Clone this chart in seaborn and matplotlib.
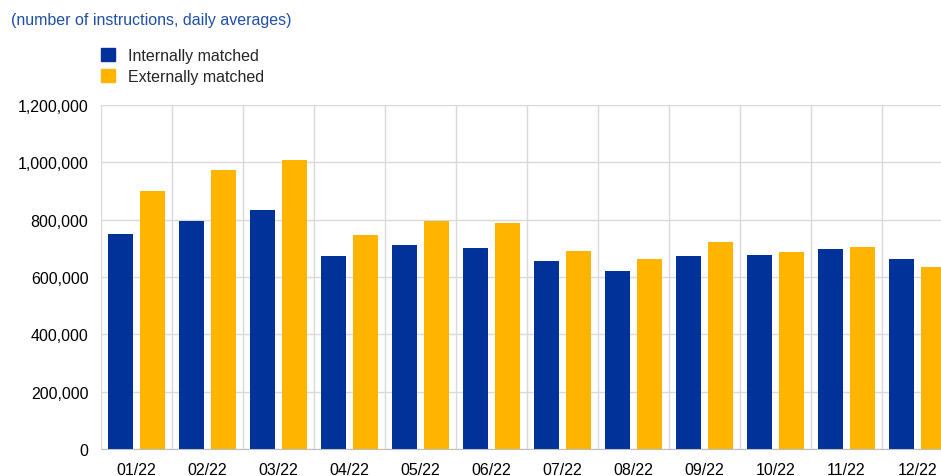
import numpy as np
import pandas as pd
import matplotlib
matplotlib.use("Agg")
import matplotlib.pyplot as plt
import seaborn as sns
from matplotlib.ticker import FuncFormatter, FixedLocator

# ---------------------------
# Data
# ---------------------------
months = ["01/22", "02/22", "03/22", "04/22", "05/22", "06/22",
          "07/22", "08/22", "09/22", "10/22", "11/22", "12/22"]
internally_matched = [749000, 796000, 834000, 672000, 713000, 700000,
                      656000, 621000, 674000, 678000, 699000, 662000]
externally_matched = [901000, 973000, 1007000, 748000, 794000, 789000,
                      691000, 663000, 722000, 687000, 705000, 635000]
series_names = ["Internally matched", "Externally matched"]
colors = ["#003299", "#FFB400"]

df = pd.DataFrame({
    "month": months * 2,
    "value": internally_matched + externally_matched,
    "series": [series_names[0]] * len(months) + [series_names[1]] * len(months),
})

# ---------------------------
# Plot
# ---------------------------
sns.set_style("white")
plt.rcParams["font.family"] = ["Liberation Sans", "DejaVu Sans"]

fig = plt.figure(figsize=(9.41, 4.77), dpi=100)
ax = fig.add_axes([0.1073, 0.0566, 0.9054, 0.7212])

sns.barplot(
    data=df, x="month", y="value", hue="series",
    palette=colors, saturation=1, width=0.9, gap=0.22,
    edgecolor="none", linewidth=0, ax=ax, legend=False,
)

ax.set_ylim(0, 1200000)
ax.set_xlim(-0.5, len(months) - 0.5)
ax.set_yticks(np.arange(0, 1200001, 200000))
ax.yaxis.set_major_formatter(FuncFormatter(lambda v, p: f"{int(v):,}"))

# vertical grid at category boundaries
ax.xaxis.set_minor_locator(FixedLocator(np.arange(-0.5, len(months), 1.0)))
ax.grid(axis="y", which="major", color="#d9d9d9", linewidth=1)
ax.grid(axis="x", which="minor", color="#d9d9d9", linewidth=1)
ax.set_axisbelow(True)

for side in ["top", "right", "left"]:
    ax.spines[side].set_visible(False)
ax.spines["bottom"].set_color("#bfbfbf")

ax.tick_params(axis="both", which="both", length=0, labelsize=11.5, colors="#000000")
ax.tick_params(axis="x", pad=9)
ax.tick_params(axis="y", pad=9)
ax.set_xlabel("")
ax.set_ylabel("")

fig.text(0.012, 0.957, "(number of instructions, daily averages)",
         color="#1f4fa8", fontsize=11.5, va="center", ha="left")

handles = [plt.Rectangle((0, 0), 1, 1, color=c) for c in colors]
fig.legend(handles, series_names, loc="upper left",
           bbox_to_anchor=(0.101, 0.91), frameon=False, fontsize=11.5,
           handlelength=0.85, handleheight=0.85, handletextpad=0.8,
           labelspacing=0.35, borderaxespad=0)

plt.savefig("out.png", dpi=100)
